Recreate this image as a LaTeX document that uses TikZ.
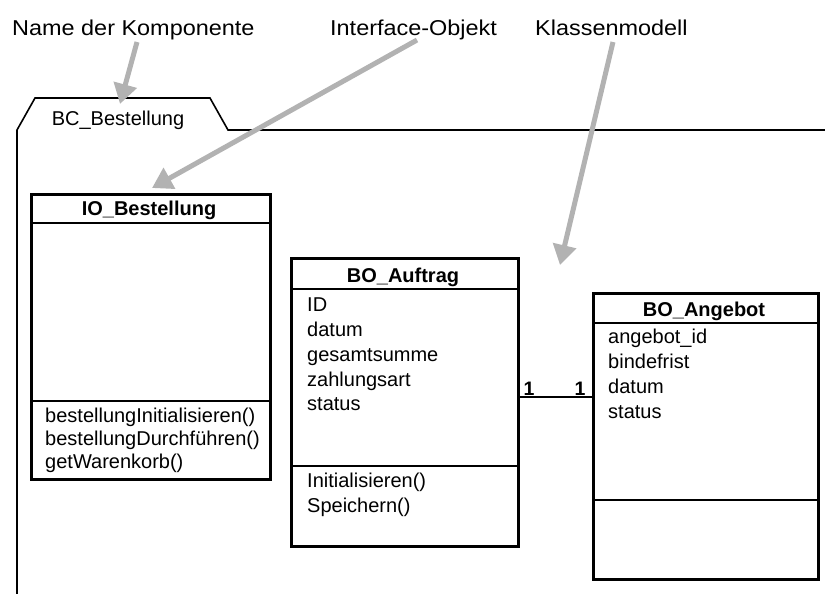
\documentclass[tikz,border=0pt]{standalone}
\usepackage{fontspec}
\setmainfont{Liberation Sans}
\newfontfamily\lblfont[FakeStretch=1.09]{Liberation Sans}
\usetikzlibrary{arrows.meta}
\begin{document}
\begin{tikzpicture}[x=1pt,y=-1pt,
  txt/.style={inner sep=0pt, anchor=base west, font=\fontsize{20}{24}\selectfont},
  hdr/.style={inner sep=0pt, anchor=base, font=\fontsize{20}{24}\selectfont\bfseries},
  lbl/.style={inner sep=0pt, anchor=base west, font=\lblfont\fontsize{21.5}{26}\selectfont},
  mult/.style={inner sep=0pt, anchor=base, font=\fontsize{19.5}{22}\selectfont\bfseries},
  umlbox/.style={draw, line width=2.5pt, inner sep=0pt, anchor=north west},
  divider/.style={line width=2pt},
  pointer/.style={draw=black!30, line width=5pt, -{Triangle[length=20pt,width=23pt]}}
]
\useasboundingbox (0,0) rectangle (825,594);

% top labels
\node[lbl] (lname) at (12,36) {Name der Komponente};
\node[lbl] (liface) at (330,36) {Interface-Objekt};
\node[lbl] (lklass) at (535,36) {Klassenmodell};

% package outline
\draw[line width=1.6pt] (17,594) -- (17,130) -- (35,98) -- (210,98) -- (228,130) -- (825,130);
\node[txt, anchor=base] (bc) at (118,125) {BC\_Bestellung};

% IO_Bestellung
\node[umlbox, minimum width=239pt, minimum height=285pt] (io) at (30,193) {};
\node[hdr] (ioh) at (149,215) {IO\_Bestellung};
\draw[divider] (io.west |- 0,223) -- (io.east |- 0,223);
\draw[divider] (io.west |- 0,401) -- (io.east |- 0,401);
\node[txt] (iom1) at (45,422) {bestellungInitialisieren()};
\node[txt] (iom2) at (45,445) {bestellungDurchführen()};
\node[txt] (iom3) at (45,468) {getWarenkorb()};

% BO_Auftrag
\node[umlbox, minimum width=227pt, minimum height=288pt] (auf) at (290,257) {};
\node[hdr] (aufh) at (403,282) {BO\_Auftrag};
\draw[divider] (auf.west |- 0,289) -- (auf.east |- 0,289);
\draw[divider] (auf.west |- 0,466) -- (auf.east |- 0,466);
\node[txt] (aufa1) at (307,311) {ID};
\node[txt] (aufa2) at (307,336) {datum};
\node[txt] (aufa3) at (307,361) {gesamtsumme};
\node[txt] (aufa4) at (307,386) {zahlungsart};
\node[txt] (aufa5) at (307,410) {status};
\node[txt] (aufm1) at (307,487) {Initialisieren()};
\node[txt] (aufm2) at (307,512) {Speichern()};

% BO_Angebot
\node[umlbox, minimum width=225pt, minimum height=286pt] (ang) at (592,292) {};
\node[hdr] (angh) at (704,316) {BO\_Angebot};
\draw[divider] (ang.west |- 0,323) -- (ang.east |- 0,323);
\draw[divider] (ang.west |- 0,500) -- (ang.east |- 0,500);
\node[txt] (anga1) at (608,343) {angebot\_id};
\node[txt] (anga2) at (608,368) {bindefrist};
\node[txt] (anga3) at (608,393) {datum};
\node[txt] (anga4) at (608,418) {status};

% association
\draw[line width=2pt] (auf.east |- 0,397) -- (ang.west |- 0,397);
\node[mult] (m1) at (529,395) {1};
\node[mult] (m2) at (580,395) {1};

% pointer arrows
\coordinate (p1s) at (137,42);
\coordinate (p1e) at (120,104);
\coordinate (p2s) at (417,40);
\coordinate (p2e) at (152,188);
\coordinate (p3s) at (613,42);
\coordinate (p3e) at (560,265);
\draw[pointer] (p1s) -- (p1e);
\draw[pointer] (p2s) -- (p2e);
\draw[pointer] (p3s) -- (p3e);
\end{tikzpicture}
\end{document}
